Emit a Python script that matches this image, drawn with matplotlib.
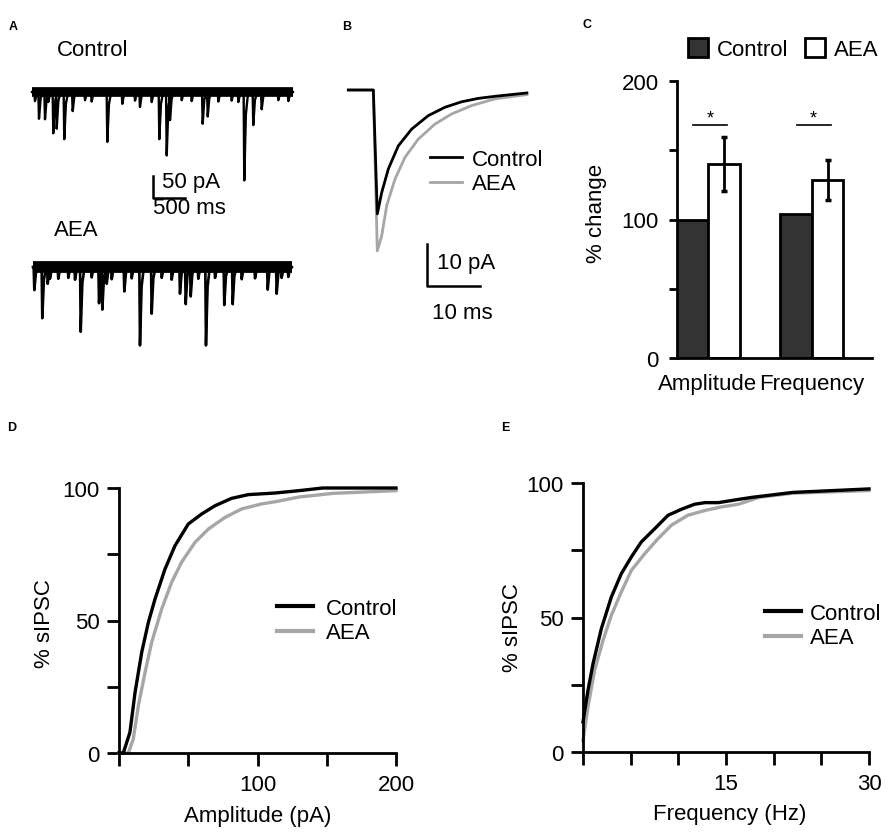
import numpy as np
import matplotlib
matplotlib.use('Agg')
import matplotlib.pyplot as plt

plt.rcParams['font.family'] = ['Liberation Sans', 'DejaVu Sans']
plt.rcParams['font.size'] = 16

W, H = 892, 837

# ---- panel A: spontaneous events (time in ms, amplitude in pA) ----
ctrl_ev_t = [108, 201, 329, 382, 499, 629, 1164, 1396, 1669, 1968, 2082, 2133,
             2638, 2716, 3281, 3420, 3550]
ctrl_ev_amp = [59, 60, 91, 81, 104, 42, 110, 26, 33, 104, 140, 62,
               70, 54, 195, 73, 38]
# small events that roughen the lower edge of the noise band
ctrl_mini_t = [46, 252, 819, 922, 1592, 1850, 2314, 2468, 2880, 3086, 3189, 3807, 3962]
ctrl_mini_amp = [20, 22, 18, 21, 19, 22, 18, 20, 21, 19, 22, 18, 20]
aea_ev_t = [36, 159, 243, 406, 753, 1036, 1087, 1155, 1427, 1669, 1850, 2287,
            2376, 2453, 2689, 2972, 3102, 3643, 3782, 3961]
aea_ev_amp = [51, 113, 37, 26, 143, 80, 94, 37, 54, 173, 103, 59,
              82, 65, 173, 84, 82, 50, 59, 22]
aea_mini_t = [278, 561, 665, 922, 1232, 1541, 2005, 2159, 2570, 2829, 3241, 3447, 3859]
aea_mini_amp = [26, 24, 28, 23, 27, 25, 24, 28, 26, 24, 27, 25, 24]

# ---- panel B: averaged sIPSC (ms, pA) ----
avg_t = [0, 4.72, 5.47, 6.30, 7.55, 9.43, 11.96, 15.09, 18.25, 21.4, 24.5, 27.7, 33.7]
avg_ctrl = [0, 0, -29.5, -24.4, -18.8, -13.3, -9.3, -6.1, -4.1, -2.8, -2.0, -1.5, -0.7]
avg_aea_t = [0, 4.72, 5.47, 6.30, 7.25, 8.81, 10.7, 13.2, 16.36, 19.5, 23.3, 27.7, 33.7]
avg_aea = [0, 0, -38.3, -34.7, -27.5, -21.2, -16.0, -11.7, -8.1, -5.7, -3.7, -2.1, -1.1]

# ---- panel C: % change ----
groups = ['Amplitude', 'Frequency']
ctrl_pct = [100, 104]
aea_pct = [140, 128.5]
aea_err = [19.5, 14.5]

# ---- panel D: cumulative amplitude ----
amp_ctrl_x = [0, 3.1, 7.9, 11.6, 16.4, 21.2, 26, 33.2, 40.4, 50, 59.7, 69.3, 81.3,
              93.4, 112.6, 130, 147, 170, 200]
amp_ctrl_y = [0, 0, 7.8, 22.9, 38, 49.3, 58.1, 69.4, 78.2, 86.4, 90.2, 93.3, 96.1,
              97.5, 98.1, 99, 100, 100, 100]
amp_aea_x = [0, 6.7, 10.3, 14, 18.8, 23.6, 30.8, 38, 45.2, 54.9, 64.5, 76.5, 88.6,
             103, 112.6, 130, 155, 200]
amp_aea_y = [0, 0, 5.3, 17.9, 30.4, 41.8, 54.3, 64.4, 72, 79.5, 84.5, 88.9, 92.1,
             94, 94.8, 96.6, 98, 99]

# ---- panel E: cumulative frequency ----
frq_ctrl_x = [0, 0.52, 1.05, 1.92, 2.97, 4.02, 5.07, 6.12, 7.52, 8.92, 10.3, 11.7,
              12.8, 14.2, 16.3, 17.8, 22, 30]
frq_ctrl_y = [11.2, 22.9, 32.8, 45.8, 57.6, 66.3, 72.5, 78.1, 83, 88, 90.2, 92.1,
              92.7, 92.7, 93.9, 94.7, 96.5, 97.8]
frq_aea_x = [0, 0.52, 1.22, 2.1, 2.97, 4.02, 5.07, 6.47, 7.87, 9.27, 11.0, 12.8,
             14.5, 16.3, 18.5, 22, 30]
frq_aea_y = [4.3, 16.7, 30.4, 41.5, 50.8, 59.5, 67.5, 73.7, 79.3, 84.3, 88, 89.8,
             91.1, 92.1, 94.7, 96.2, 97.2]

GREY = '#a6a6a6'

fig = plt.figure(figsize=(W / 100, H / 100), dpi=100)


def px_axes(x0, y0, x1, y1):
    return fig.add_axes([x0 / W, 1 - y1 / H, (x1 - x0) / W, (y1 - y0) / H])


def ftext(x, y, s, **kw):
    fig.text(x / W, 1 - y / H, s, **kw)


def event_trace(times, amps, t0, t1):
    xs, ys = [t0], [0]
    for t, a in sorted(zip(times, amps)):
        xs += [t - 10, t, t + 25, t + 60]
        ys += [0, -a, -0.25 * a, 0]
    xs.append(t1)
    ys.append(0)
    return np.array(xs), np.array(ys)


# panel letters
for lab, x, y in [('A', 13, 27), ('B', 347, 27), ('C', 587, 25), ('D', 12, 428), ('E', 505, 428)]:
    ftext(x, y, lab, fontsize=9, fontweight='bold', ha='center', va='center')

# ---------------- A ----------------
axA = px_axes(25, 40, 330, 360)
axA.axis('off')
axA.set_xlim(-108, 4606)
axA.set_ylim(-589, 117)
aea_off = -386
axA.plot([0, 4034], [0, 0], color='k', lw=7, solid_capstyle='butt')
x, y = event_trace(ctrl_ev_t + ctrl_mini_t, ctrl_ev_amp + ctrl_mini_amp, 0, 4034)
axA.plot(x, y, color='k', lw=1.7)
axA.plot([15, 4018], [aea_off, aea_off], color='k', lw=8.5, solid_capstyle='butt')
x, y = event_trace(aea_ev_t + aea_mini_t, aea_ev_amp + aea_mini_amp, 15, 4018)
axA.plot(x, y + aea_off, color='k', lw=1.9)
axA.plot([1865, 1865, 2365], [-184.8, -234.7, -234.7], color='k', lw=1.8)
axA.text(2005, -198, '50 pA', ha='left', va='center', fontsize=16)
axA.text(1865, -254, '500 ms', ha='left', va='center', fontsize=16)
ftext(57, 50, 'Control', ha='left', va='center', fontsize=16)
ftext(54, 230, 'AEA', ha='left', va='center', fontsize=16)

# ---------------- B ----------------
axB = px_axes(340, 80, 540, 330)
axB.axis('off')
axB.set_xlim(-1.57, 36.17)
axB.set_ylim(-56.9, 2.62)
axB.plot(avg_t, avg_ctrl, color='k', lw=2, label='Control', zorder=3)
axB.plot(avg_aea_t, avg_aea, color=GREY, lw=2, label='AEA', zorder=2)
axB.plot([14.85, 14.85, 24.85], [-36.7, -46.7, -46.7], color='k', lw=1.8)
axB.text(16.7, -41, '10 pA', ha='left', va='center', fontsize=16)
axB.text(21.5, -53, '10 ms', ha='center', va='center', fontsize=16)
axB.legend(loc='upper left', bbox_to_anchor=(430 / W, 1 - 150 / H),
           bbox_transform=fig.transFigure, frameon=False, borderpad=0,
           borderaxespad=0, handlelength=1.45, handletextpad=0.45,
           labelspacing=0.15, fontsize=16)

# ---------------- C ----------------
axC = px_axes(676.7, 82, 871.7, 359)
w = 0.308
gx = np.arange(len(groups))
bc = axC.bar(gx - w / 2, ctrl_pct, w, color='#333333', edgecolor='k', lw=2,
             label='Control', zorder=2)
ba = axC.bar(gx + w / 2, aea_pct, w, color='white', edgecolor='k', lw=2,
             label='AEA', zorder=2)
axC.errorbar(gx + w / 2, aea_pct, yerr=aea_err, fmt='none', ecolor='k',
             elinewidth=2, capsize=2.5, capthick=2.5, zorder=3)
for g in gx:
    axC.plot([g - w / 2 + 0.01, g + w / 2 + 0.03], [168, 168], color='k', lw=1.2)
    axC.text(g + 0.02, 170, '*', ha='center', va='baseline', fontsize=13)
axC.set_xlim(-0.30, 1.58)
axC.set_ylim(0, 200)
axC.spines['top'].set_visible(False)
axC.spines['right'].set_visible(False)
axC.spines['left'].set_linewidth(2)
axC.spines['bottom'].set_linewidth(2)
axC.set_yticks([0, 50, 100, 150, 200])
axC.set_yticklabels(['0', '', '100', '', '200'])
axC.tick_params(axis='y', length=6, width=2, pad=7, labelsize=16)
axC.set_xticks(gx)
axC.set_xticklabels(groups)
axC.tick_params(axis='x', length=0, pad=11, labelsize=16)
axC.set_ylabel('% change', fontsize=16)
axC.yaxis.set_label_coords(-0.357, 0.527)
axC.legend(handles=[bc, ba], loc='center left', ncol=2,
           bbox_to_anchor=(688 / W, 1 - 50 / H), bbox_transform=fig.transFigure,
           frameon=False, borderpad=0, borderaxespad=0, handlelength=0.9,
           handleheight=0.9, handletextpad=0.4, columnspacing=0.75, fontsize=16)


def cum_axes(ax):
    for s in ['top', 'right']:
        ax.spines[s].set_visible(False)
    for s in ['left', 'bottom']:
        ax.spines[s].set_linewidth(2)
    ax.tick_params(length=9, width=2, labelsize=16)
    ax.tick_params(axis='x', pad=6)
    ax.tick_params(axis='y', pad=5)


# ---------------- D ----------------
axD = px_axes(119, 489, 396, 754)
axD.plot(amp_ctrl_x, amp_ctrl_y, color='k', lw=2.4, label='Control', clip_on=False, zorder=3)
axD.plot(amp_aea_x, amp_aea_y, color=GREY, lw=2.4, label='AEA', clip_on=False, zorder=2)
axD.set_xlim(0, 200)
axD.set_ylim(0, 100)
axD.set_xticks([0, 50, 100, 150, 200])
axD.set_xticklabels(['', '', '100', '', '200'])
axD.set_yticks([0, 25, 50, 75, 100])
axD.set_yticklabels(['0', '', '50', '', '100'])
cum_axes(axD)
axD.set_xlabel('Amplitude (pA)', fontsize=16)
axD.xaxis.set_label_coords(0.502, -0.196)
axD.set_ylabel('% sIPSC', fontsize=16)
axD.yaxis.set_label_coords(-0.23, 0.494)
axD.legend(loc='upper left', bbox_to_anchor=(277 / W, 1 - 599 / H),
           bbox_transform=fig.transFigure, frameon=False, borderpad=0,
           borderaxespad=0, handlelength=1.64, handletextpad=0.55,
           labelspacing=0.15, fontsize=16)
for l in axD.get_legend().get_lines():
    l.set_linewidth(3)

# ---------------- E ----------------
axE = px_axes(583, 484, 869, 753)
axE.plot(frq_ctrl_x, frq_ctrl_y, color='k', lw=2.4, label='Control', clip_on=False, zorder=3)
axE.plot(frq_aea_x, frq_aea_y, color=GREY, lw=2.4, label='AEA', clip_on=False, zorder=2)
axE.set_xlim(0, 30)
axE.set_ylim(0, 100)
axE.set_xticks([0, 5, 10, 15, 20, 25, 30])
axE.set_xticklabels(['', '', '', '15', '', '', '30'])
axE.set_yticks([0, 25, 50, 75, 100])
axE.set_yticklabels(['0', '', '50', '', '100'])
cum_axes(axE)
axE.set_xlabel('Frequency (Hz)', fontsize=16)
axE.xaxis.set_label_coords(0.514, -0.19)
axE.set_ylabel('% sIPSC', fontsize=16)
axE.yaxis.set_label_coords(-0.21, 0.468)
axE.legend(loc='upper left', bbox_to_anchor=(765 / W, 1 - 604 / H),
           bbox_transform=fig.transFigure, frameon=False, borderpad=0,
           borderaxespad=0, handlelength=1.64, handletextpad=0.4,
           labelspacing=0.15, fontsize=16)
for l in axE.get_legend().get_lines():
    l.set_linewidth(3)

fig.savefig('out.png', dpi=100)
